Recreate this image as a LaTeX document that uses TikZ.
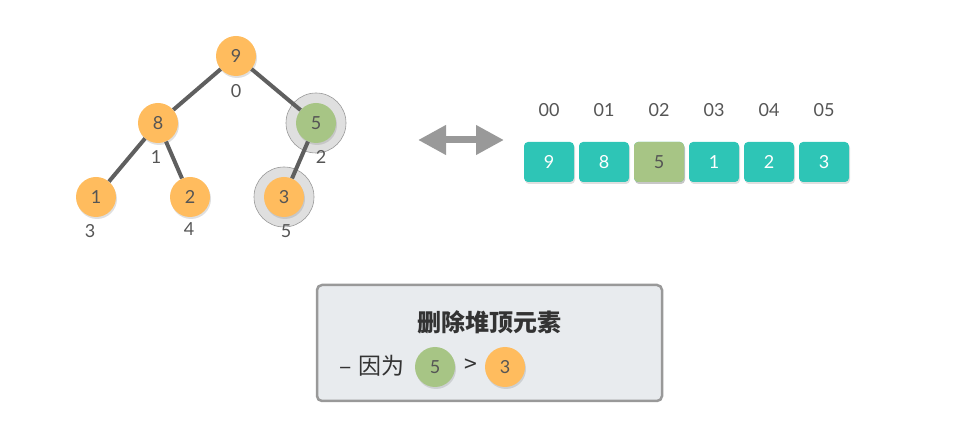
\documentclass[tikz,border=0pt]{standalone}
\usepackage{fontspec}
\setmainfont{Lato}
\newfontfamily\cjk{Noto Sans CJK SC}
\usetikzlibrary{shadows,arrows.meta}
\definecolor{orng}{HTML}{FFBC5E}
\definecolor{grn}{HTML}{A7C585}
\definecolor{teal}{HTML}{2EC5B6}
\definecolor{txt}{HTML}{555555}
\definecolor{edge}{HTML}{5F5F5F}
\definecolor{panel}{HTML}{E8EBEE}

\begin{document}
\begin{tikzpicture}[x=1pt, y=-1pt, font=\fontsize{18}{20}\selectfont,
    heap/.style={circle, fill=orng, minimum size=40pt, inner sep=0pt, text=txt,
        drop shadow={shadow xshift=1pt, shadow yshift=-2pt, opacity=0.25}},
    hot/.style={heap, fill=grn},
    halo/.style={circle, fill=gray!25, draw=gray!80, line width=0.6pt, minimum size=60pt},
    cell/.style={rounded corners=4pt, fill=teal, minimum width=50pt, minimum height=40pt,
        inner sep=0pt, text=white,
        drop shadow={shadow xshift=1pt, shadow yshift=-2pt, opacity=0.25}},
    idx/.style={text=txt},
    say/.style={text=txt!60!black, font=\fontsize{23}{26}\selectfont\cjk}]
    \useasboundingbox (0,0) rectangle (980,443);

    % Halos
    \node[halo] (h5) at (316,123) {};
    \node[halo] (h3) at (284,197) {};

    % Nodes
    \node[heap] (n0) at (236,56) {9};
    \node[heap] (n1) at (158,123) {8};
    \node[hot]  (n2) at (316,123) {5};
    \node[heap] (n3) at (96,197) {1};
    \node[heap] (n4) at (190,197) {2};
    \node[heap] (n5) at (284,197) {3};

    % Lines
    \draw[edge, line width=4pt]
        (n0) -- (n1)  (n0) -- (n2)  (n1) -- (n3)  (n1) -- (n4)  (n2) -- (n5);

    % Indices
    \node[idx] (i0) at (236,91) {0};
    \node[idx] (i1) at (156,157) {1};
    \node[idx] (i2) at (321,157) {2};
    \node[idx] (i3) at (90,231) {3};
    \node[idx] (i4) at (189,229) {4};
    \node[idx] (i5) at (286,231) {5};

    % Arrow
    \coordinate (al) at (418,140);
    \coordinate (ar) at (504,140);
    \draw[gray!80, line width=7pt, {Triangle[length=28pt, width=28pt]}-{Triangle[length=28pt, width=28pt]}] (al) -- (ar);

    % Array
    \foreach \v/\k [count=\i from 0] in {9/0, 8/1, 5/2, 1/3, 2/4, 3/5} {
        \node[cell] (c\k) at (549+55*\i,162) {\v};
        \node[idx] (a\k) at (549+55*\i,110) {0\k};
    }
    \node[cell, fill=grn, text=txt] at (c2) {5};

    % Note
    \node[draw=gray!80, line width=2.5pt, fill=panel, rounded corners=5pt,
        minimum width=345pt, minimum height=116pt] (note) at (489.5,343) {};
    \node[say, font=\fontsize{24}{26}\selectfont\cjk\bfseries] (title) at (489,322) {删除堆顶元素};
    \node[say] (why) at (372,366) {–\hspace{6pt}因为};
    \node[say] (gt) at (471,366) {>};
    \node[hot] (g5) at (435,367) {5};
    \node[heap] (o3) at (505,367) {3};
\end{tikzpicture}
\end{document}
